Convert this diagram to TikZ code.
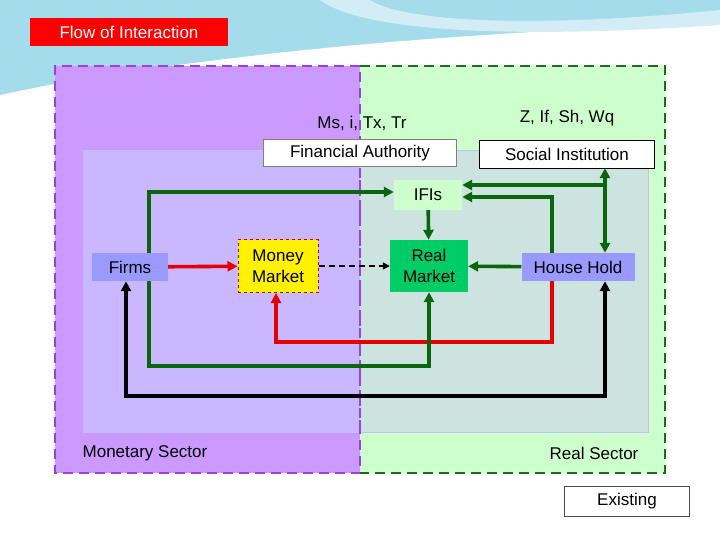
\documentclass[tikz,border=0pt]{standalone}
\usepackage{fontspec}
\setmainfont{Liberation Sans}
\usetikzlibrary{arrows.meta,calc}
\definecolor{monpurple}{HTML}{CC99FF}
\definecolor{monedge}{HTML}{9B40E8}
\definecolor{realgreen}{HTML}{CCFFCC}
\definecolor{realedge}{HTML}{1E6B1E}
\definecolor{lavender}{HTML}{C9B8FF}
\definecolor{paleteal}{HTML}{CCE3E0}
\definecolor{boxblue}{HTML}{9999FF}
\definecolor{rmgreen}{HTML}{00CC66}
\definecolor{arrgreen}{HTML}{0B660B}
\definecolor{swoosh}{HTML}{8FD3E6}
\begin{document}
\begin{tikzpicture}[x=1pt,y=-1pt,
  every node/.style={font=\fontsize{17}{21}\selectfont},
  box/.style={draw, minimum height=28pt, inner sep=2pt, align=center},
  flow/.style={line width=3.6pt, -{Triangle[length=10pt,width=10pt]}},
  gflow/.style={flow, arrgreen},
  rflow/.style={flow, red!90!black},
  both/.style={{Triangle[length=10pt,width=10pt]}-{Triangle[length=10pt,width=10pt]}}]
\useasboundingbox (0,0) rectangle (720,540);
% decorative header swoosh
\fill[swoosh!80] (0,0) -- (720,0) -- (720,20) .. controls (550,40) and (250,40) .. (0,95) -- cycle;
\fill[white] (0,110) .. controls (200,55) and (450,40) .. (720,40) -- (720,22) .. controls (450,35) and (200,50) .. (0,100) -- cycle;
\fill[swoosh!40] (320,0) .. controls (360,30) and (500,40) .. (720,25) -- (720,10) .. controls (520,30) and (400,20) .. (370,0) -- cycle;
% title
\node[fill=red, text=white, minimum width=198pt, minimum height=28pt] (title) at (129,32) {Flow of Interaction};
% sectors
\fill[monpurple] (55,66) rectangle (360,473);
\fill[realgreen] (360,66) rectangle (665,473);
\fill[lavender] (83,150) rectangle (360,432);
\fill[paleteal] (360,150) rectangle (648,432);
\draw[blue!25] (83,150) rectangle (648,432);
\draw[monedge, line width=1.2pt, dash pattern=on 6pt off 4pt] (360,150) -- (360,432);
\draw[monedge, line width=2.5pt, dash pattern=on 10pt off 6pt] (360,66) -- (55,66) -- (55,473) -- (360,473) -- cycle;
\draw[realedge, line width=2.5pt, dash pattern=on 10pt off 6pt] (360,66) -- (665,66) -- (665,473) -- (360,473);
% texts
\node (ms) at (362,123) {Ms, i, Tx, Tr};
\node (z) at (567,118) {Z, If, Sh, Wq};
\node (mon) at (145,453) {Monetary Sector};
\node (real) at (594,453) {Real Sector};
% boxes
\node[box, draw=gray, fill=white, minimum width=193pt, minimum height=27pt] (fa) at (360,153) {Financial Authority};
\node[box, draw=black, fill=white, minimum width=175pt] (si) at (567,154) {Social Institution};
\node[box, draw=none, fill=realgreen, minimum width=68pt, minimum height=30pt] (ifi) at (428,195) {IFIs};
\node[box, draw=none, fill=boxblue, minimum width=76pt] (firms) at (130,267) {Firms};
\node[box, draw=red!80!black, dashed, line width=1pt, fill=yellow, minimum width=80pt, minimum height=53pt] (mm) at (278,266) {Money\\Market};
\node[box, draw=none, fill=rmgreen, minimum width=78pt, minimum height=52pt] (rm) at (429,266) {Real\\Market};
\node[box, draw=none, fill=boxblue, minimum width=113pt] (hh) at (578,267) {House Hold};
\node[box, draw=black!70, fill=white, minimum width=125pt, minimum height=30pt] (ex) at (627,501) {Existing};
% connector corners
\coordinate (f1) at (149,192);
\coordinate (h1) at (552,197);
\coordinate (s1) at (605,185);
\coordinate (r1) at (552,342);
\coordinate (r2) at (276,342);
\coordinate (g1) at (149,366);
\coordinate (g2) at (429,366);
\coordinate (b1) at (126,396);
\coordinate (b2) at (605,396);
% connectors
\draw[rflow] (firms) -- (mm);
\draw[line width=1.5pt, dash pattern=on 6pt off 4pt, -{Triangle[length=7pt,width=7pt]}] (mm) -- (rm);
\draw[gflow] (hh) -- (rm);
\draw[gflow] (ifi) -- (rm);
\draw[gflow] (firms.north -| f1) -- (f1) -- (f1 -| ifi.west);
\draw[gflow] (hh.north -| h1) -- (h1) -- (h1 -| ifi.east);
\draw[gflow, both] (si.south -| s1) -- (hh.north -| s1);
\draw[gflow] (s1) -- (s1 -| ifi.east);
\draw[rflow] (hh.south -| r1) -- (r1) -- (r2) -- (mm.south -| r2);
\draw[gflow] (firms.south -| g1) -- (g1) -- (g2) -- (rm.south);
\draw[flow, black, both] (firms.south -| b1) -- (b1) -- (b2) -- (hh.south -| b2);
\end{tikzpicture}
\end{document}
